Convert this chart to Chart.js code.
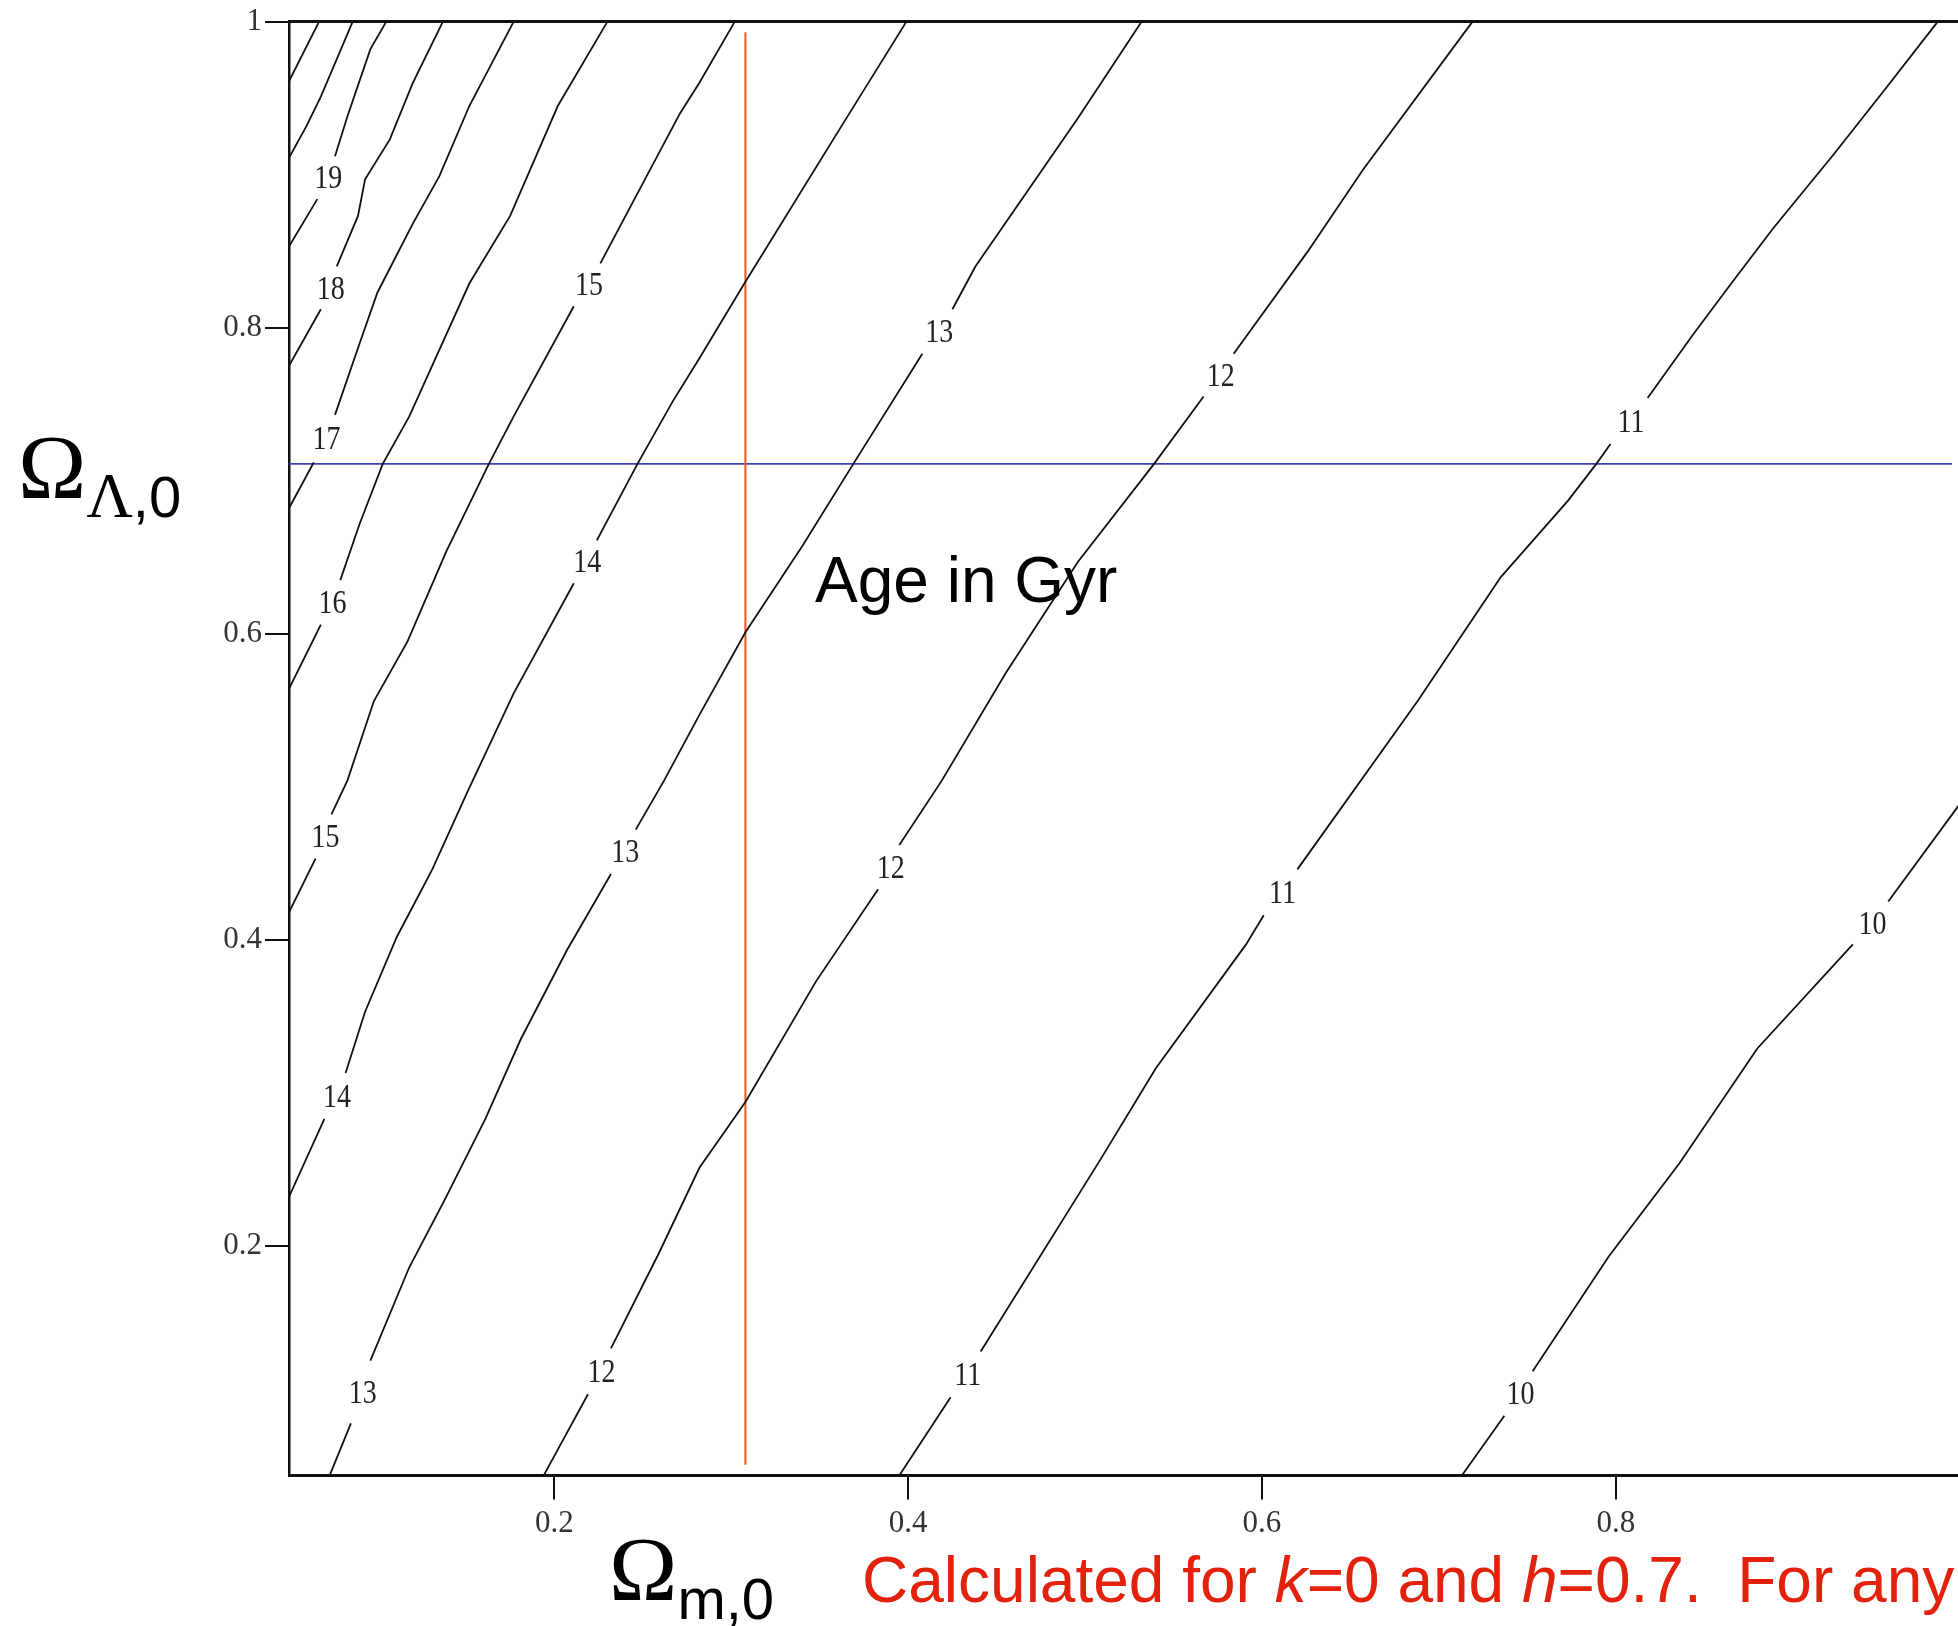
<!DOCTYPE html>
<html>
<head>
<meta charset="utf-8">
<title>Age in Gyr</title>
<script src="https://cdn.jsdelivr.net/npm/chart.js@4.4.0/dist/chart.umd.min.js"></script>
<style>
  html, body { margin: 0; padding: 0; background: #fff; overflow: hidden; }
  #wrap { position: relative; width: 1958px; height: 1626px; overflow: hidden; background: #fff; }
  #chartBox { position: absolute; left: 0; top: 0; width: 2000px; height: 1626px; }
  .txt { position: absolute; white-space: pre; line-height: 1; }
  .omega { font-family: "Liberation Serif", serif; font-size: 92px; line-height: 92px; color: #000; }
  .sub { position: relative; top: 19px; font-family: "Liberation Sans", Arial, sans-serif; font-size: 58px; line-height: 1; }
  .lam { font-family: "Liberation Serif", serif; font-size: 64px; }
  .sans { font-family: "Liberation Sans", Arial, sans-serif; font-size: 64px; }
</style>
</head>
<body>
<div id="wrap">
  <div id="chartBox"><canvas id="ageChart"></canvas></div>
  <div class="txt omega" style="left:18px; top:421px;">Ω<span class="sub"><span class="lam">Λ</span>,0</span></div>
  <div class="txt omega" style="left:609px; top:1523px;">Ω<span class="sub">m,0</span></div>
  <div class="txt sans" style="left:815px; top:548px; color:#000;">Age in Gyr</div>
  <div class="txt sans" style="left:862px; top:1548px; color:#e3220e;">Calculated for <i>k</i>=0 and <i>h</i>=0.7.  For any</div>
</div>
<script>
// contour levels (Gyr); null marks the break where the level number sits
const levels = [21, 20, 19, 18, 17, 16, 15, 14, 13, 12, 11, 10];
const labelled = [19, 18, 17, 16, 15, 14, 13, 12, 11, 10];

const age21 = [[0.067, 1], [0.05, 0.961]];
const age20 = [[0.086, 1], [0.068, 0.951], [0.060, 0.932], [0.05, 0.911]];
const age19 = [[0.105, 1], [0.096, 0.982], [0.083, 0.938], [0.076, 0.912], null, [0.066, 0.884], [0.05, 0.853]];
const age18 = [[0.137, 1], [0.120, 0.960], [0.107, 0.923], [0.093, 0.897], [0.089, 0.873], [0.077, 0.840], null,
               [0.068, 0.812], [0.05, 0.775]];
const age17 = [[0.177, 1], [0.152, 0.945], [0.135, 0.899], [0.120, 0.868], [0.100, 0.823], [0.090, 0.790],
               [0.076, 0.743], null, [0.064, 0.712], [0.05, 0.682]];
const age16 = [[0.230, 1], [0.202, 0.945], [0.175, 0.873], [0.152, 0.829], [0.118, 0.742], [0.103, 0.711],
               [0.090, 0.672], [0.079, 0.635], null, [0.068, 0.606], [0.05, 0.564]];
const age15 = [[0.302, 1], [0.282, 0.960], [0.271, 0.940], [0.226, 0.842], null, [0.211, 0.814], [0.177, 0.742],
               [0.163, 0.711], [0.139, 0.654], [0.117, 0.595], [0.098, 0.556], [0.083, 0.504], [0.074, 0.482], null,
               [0.065, 0.453], [0.05, 0.418]];
const age14 = [[0.399, 1], [0.363, 0.933], [0.308, 0.830], [0.282, 0.780], [0.267, 0.752], [0.247, 0.711],
               [0.224, 0.661], null, [0.211, 0.633], [0.177, 0.561], [0.151, 0.497], [0.131, 0.446], [0.111, 0.402],
               [0.093, 0.353], [0.082, 0.313], null, [0.070, 0.283], [0.05, 0.232]];
const age13 = [[0.532, 1], [0.496, 0.937], [0.438, 0.840], [0.425, 0.812], null, [0.408, 0.783], [0.369, 0.711],
               [0.340, 0.657], [0.308, 0.601], [0.282, 0.547], [0.262, 0.504], [0.246, 0.472], null, [0.232, 0.443],
               [0.207, 0.393], [0.181, 0.335], [0.161, 0.283], [0.138, 0.230], [0.118, 0.186], [0.096, 0.125], null,
               [0.085, 0.084], [0.073, 0.05]];
const age12 = [[0.719, 1], [0.657, 0.903], [0.626, 0.850], [0.584, 0.783], null, [0.567, 0.755], [0.539, 0.711],
               [0.496, 0.647], [0.455, 0.574], [0.419, 0.504], [0.395, 0.462], null, [0.383, 0.433], [0.348, 0.373],
               [0.308, 0.294], [0.282, 0.251], [0.259, 0.195], [0.232, 0.133], null, [0.219, 0.103], [0.194, 0.05]];
const age11 = [[0.982, 1], [0.951, 0.954], [0.923, 0.913], [0.889, 0.865], [0.866, 0.830], [0.844, 0.796],
               [0.818, 0.754], null, [0.797, 0.724], [0.789, 0.711], [0.773, 0.687], [0.735, 0.637], [0.688, 0.556],
               [0.620, 0.446], null, [0.601, 0.416], [0.591, 0.397], [0.540, 0.316], [0.509, 0.257], [0.441, 0.131],
               null, [0.424, 0.101], [0.395, 0.05]];
const age10 = [[0.994, 0.488], [0.954, 0.425], null, [0.934, 0.397], [0.880, 0.329], [0.836, 0.254], [0.796, 0.193],
               [0.753, 0.118], null, [0.737, 0.089], [0.713, 0.05]];
const contours = [age21, age20, age19, age18, age17, age16, age15, age14, age13, age12, age11, age10];

// Omega_m,0 = 0.31 marker and Omega_Lambda,0 = 0.71 marker
const omegaMx = [0.308, 0.308];
const omegaMy = [0.057, 0.993];
const omegaLx = [0.05, 0.99];
const omegaLy = [0.711, 0.711];

const xTicks = [0.2, 0.4, 0.6, 0.8, 1];
const yTicks = [0.2, 0.4, 0.6, 0.8, 1];

const toPoints = arr => arr.map(p => p ? {x: p[0], y: p[1]} : {x: null, y: null});

const contourSets = contours.map((c, i) => ({
  label: 'age ' + levels[i],
  level: labelled.includes(levels[i]) ? levels[i] : null,
  data: toPoints(c),
  borderColor: '#111',
  borderWidth: 1.8,
  showLine: true,
  spanGaps: false,
  pointRadius: 0,
  tension: 0
}));

const markerSets = [
  {
    label: 'Omega m',
    data: omegaMx.map((x, i) => ({x: x, y: omegaMy[i]})),
    borderColor: '#fa4f1e', borderWidth: 2, showLine: true, pointRadius: 0
  },
  {
    label: 'Omega Lambda',
    data: omegaLx.map((x, i) => ({x: x, y: omegaLy[i]})),
    borderColor: '#3b3fb2', borderWidth: 1.8, showLine: true, pointRadius: 0
  }
];

// level numbers written in the breaks of each contour
const contourLabels = {
  id: 'contourLabels',
  afterDatasetsDraw(chart) {
    const ctx = chart.ctx;
    ctx.save();
    ctx.font = '28px "Liberation Serif"';
    ctx.fillStyle = '#222';
    ctx.textAlign = 'center';
    ctx.textBaseline = 'middle';
    chart.data.datasets.forEach((ds, i) => {
      if (!ds.level) return;
      const pts = chart.getDatasetMeta(i).data;
      for (let j = 1; j < ds.data.length - 1; j++) {
        if (ds.data[j].y !== null) continue;
        const a = pts[j - 1], b = pts[j + 1];
        ctx.save();
        ctx.translate((a.x + b.x) / 2 + 2, (a.y + b.y) / 2 + 2);
        ctx.scale(1, 1.18);
        ctx.fillText(String(ds.level), 0, 0);
        ctx.restore();
      }
    });
    ctx.restore();
  }
};

// top edge of the plot box
const topEdge = {
  id: 'topEdge',
  afterDraw(chart) {
    const {ctx, chartArea} = chart;
    ctx.save();
    ctx.strokeStyle = '#111';
    ctx.lineWidth = 3;
    ctx.beginPath();
    ctx.moveTo(chartArea.left - 1, chartArea.top);
    ctx.lineTo(chartArea.right, chartArea.top);
    ctx.stroke();
    ctx.restore();
  }
};

const tickFont = {family: 'Liberation Serif', size: 31};

const chartOptions = {
  responsive: true,
  maintainAspectRatio: false,
  animation: false,
  layout: { padding: {left: 0, top: 20, right: 30.4, bottom: 0} },
  plugins: {
    legend: { display: false },
    tooltip: { enabled: false }
  },
  scales: {
    x: {
      type: 'linear',
      min: 0.05,
      max: 1,
      afterBuildTicks: s => { s.ticks = xTicks.map(v => ({value: v})); },
      afterFit: s => { s.height = 150.6; },
      ticks: { callback: v => String(v), font: tickFont, color: '#333', padding: 6, autoSkip: false, maxRotation: 0 },
      grid: { drawOnChartArea: false, drawTicks: true, tickLength: 24, color: '#111', lineWidth: 2 },
      border: { display: true, color: '#111', width: 3 }
    },
    y: {
      type: 'linear',
      min: 0.05,
      max: 1,
      afterBuildTicks: s => { s.ticks = yTicks.map(v => ({value: v})); },
      afterFit: s => { s.width = 289; },
      ticks: { callback: v => String(v), font: tickFont, color: '#333', padding: 3, autoSkip: false },
      grid: { drawOnChartArea: false, drawTicks: true, tickLength: 24, color: '#111', lineWidth: 2 },
      border: { display: true, color: '#111', width: 2.5 }
    }
  }
};

const ageGraph = document.getElementById('ageChart');
let ageChart = new Chart(ageGraph, {
  type: 'scatter',
  data: { datasets: contourSets.concat(markerSets) },
  options: chartOptions,
  plugins: [contourLabels, topEdge]
});
</script>
</body>
</html>
